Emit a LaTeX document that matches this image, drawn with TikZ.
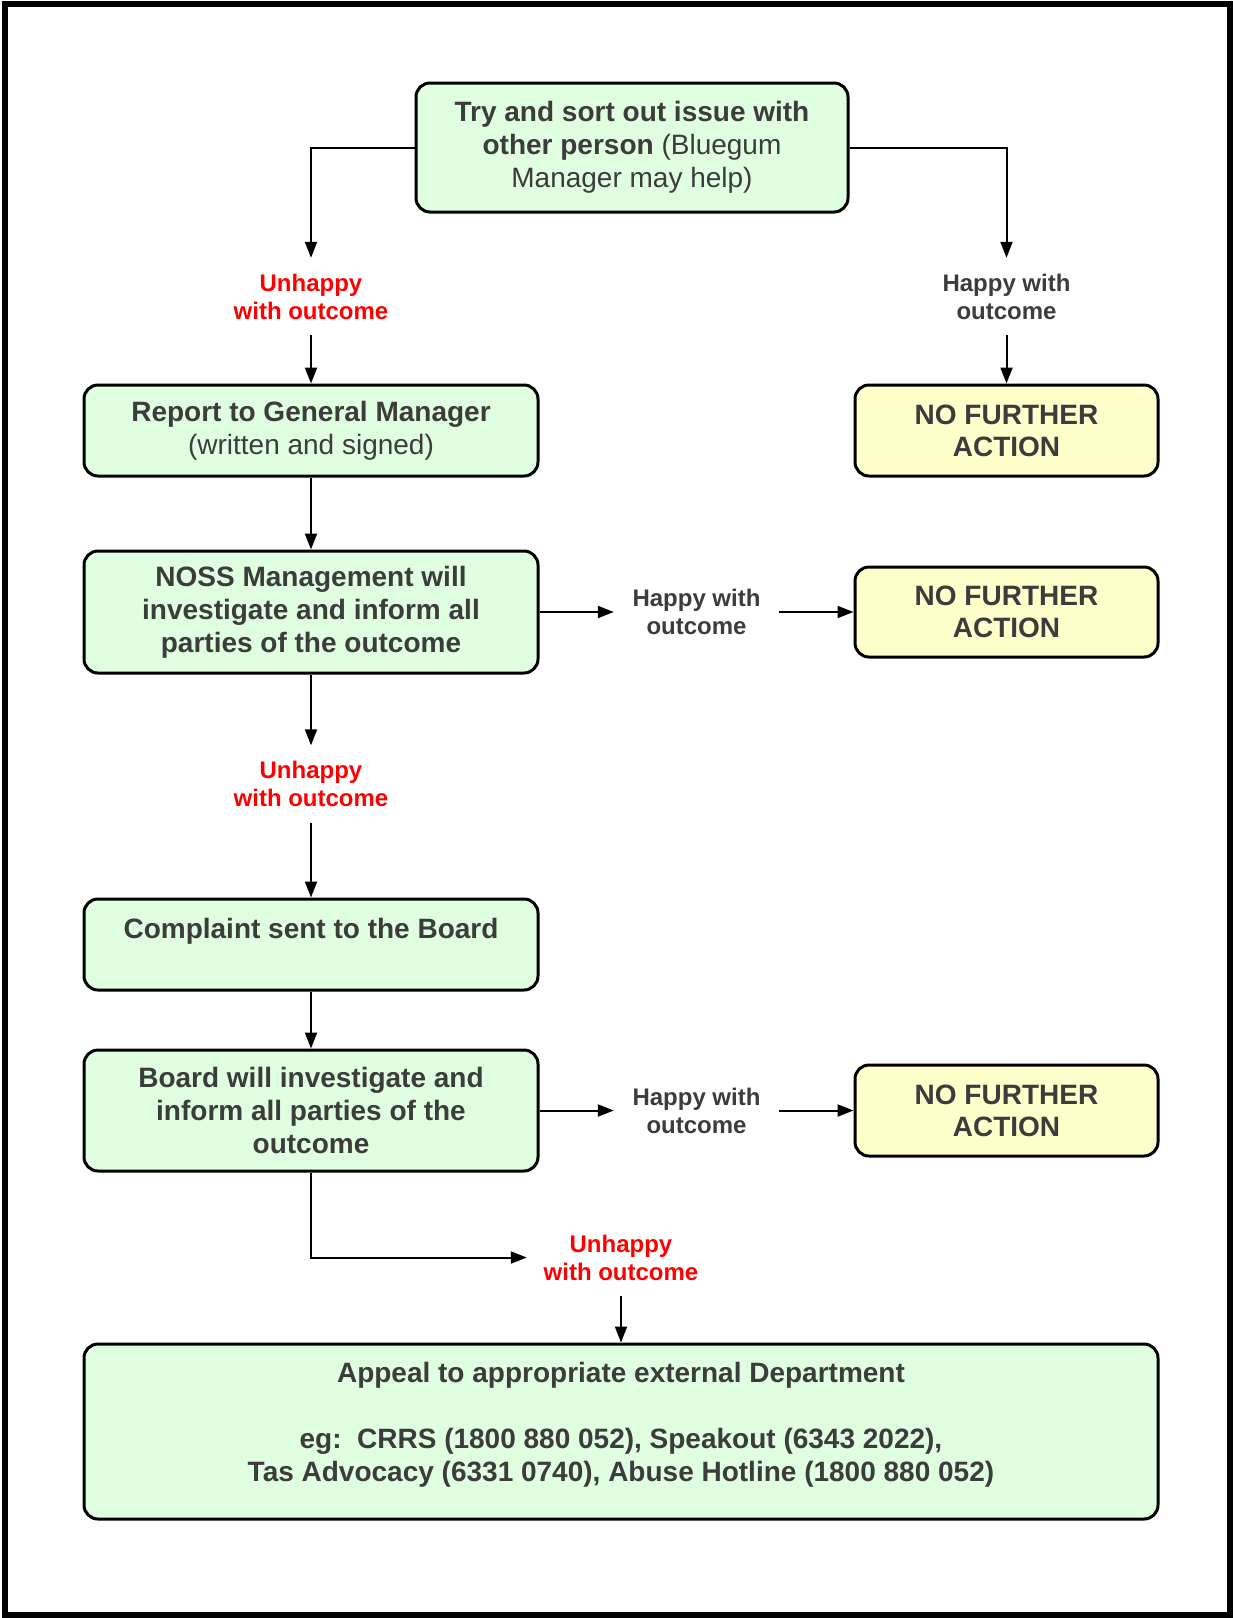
\documentclass[tikz,border=0pt]{standalone}
\usepackage{fontspec}
\setmainfont{Liberation Sans}
\usetikzlibrary{arrows.meta}
\definecolor{txtgray}{RGB}{60,60,60}
\definecolor{boxgreen}{RGB}{224,255,224}
\definecolor{boxyellow}{RGB}{255,255,204}
\definecolor{lblred}{RGB}{255,0,0}
\tikzset{
  box/.style={draw=black, line width=3pt, rounded corners=14pt, align=center,
    inner sep=0pt, text=txtgray, font=\fontsize{28}{33}\selectfont},
  gbox/.style={box, fill=boxgreen},
  ybox/.style={box, fill=boxyellow, font=\fontsize{28}{32}\selectfont\bfseries},
  lbl/.style={align=center, inner sep=0pt, minimum width=165pt, minimum height=77pt,
    font=\fontsize{24}{28}\selectfont\bfseries},
  happylbl/.style={lbl, text=txtgray},
  unhappylbl/.style={lbl, text=lblred},
  conn/.style={line width=2pt, -{Triangle[length=16pt,width=12pt]}}
}
\begin{document}
\begin{tikzpicture}[x=1pt,y=-1pt]
\useasboundingbox (0,0) rectangle (1233,1618);
\draw[line width=6pt] (5,3.5) rectangle (1229.5,1614.5);

\node[gbox, minimum width=432pt, minimum height=129pt] (top) at (632,147.5)
  {\textbf{Try and sort out issue with}\\\textbf{other person} (Bluegum\\Manager may help)};
\node[unhappylbl, minimum width=188pt] (u1) at (311,296.5) {Unhappy\\with outcome};
\node[happylbl] (h1) at (1006.5,296.5) {Happy with\\outcome};

\node[gbox, minimum width=454pt, minimum height=91pt] (report) at (311,430.5)
  {\textbf{Report to General Manager}\\(written and signed)};
\node[ybox, minimum width=303pt, minimum height=91pt] (nfa1) at (1006.5,430.5)
  {NO FURTHER\\ACTION};

\node[gbox, minimum width=454pt, minimum height=122pt] (noss) at (311,612)
  {\textbf{NOSS Management will}\\\textbf{investigate and inform all}\\\textbf{parties of the outcome}};
\node[happylbl] (h2) at (696.5,612) {Happy with\\outcome};
\node[ybox, minimum width=303pt, minimum height=90pt] (nfa2) at (1006.5,612)
  {NO FURTHER\\ACTION};

\node[unhappylbl, minimum width=188pt] (u2) at (311,784) {Unhappy\\with outcome};

\node[gbox, minimum width=454pt, minimum height=91pt] (complaint) at (311,944.5)
  {\textbf{Complaint sent to the Board}\\\mbox{}};

\node[gbox, minimum width=454pt, minimum height=121pt] (board) at (311,1110.5)
  {\textbf{Board will investigate and}\\\textbf{inform all parties of the}\\\textbf{outcome}};
\node[happylbl] (h3) at (696.5,1110.5) {Happy with\\outcome};
\node[ybox, minimum width=303pt, minimum height=91pt] (nfa3) at (1006.5,1110.5)
  {NO FURTHER\\ACTION};

\node[unhappylbl, minimum width=188pt] (u3) at (621,1257.5) {Unhappy\\with outcome};

\node[gbox, minimum width=1074pt, minimum height=175pt] (appeal) at (621,1431.5)
  {\textbf{Appeal to appropriate external Department}\\\mbox{}\\
   \textbf{eg:\ \ CRRS (1800 880 052), Speakout (6343 2022),}\\
   \textbf{Tas Advocacy (6331 0740), Abuse Hotline (1800 880 052)}\\[-14pt]\mbox{}};

\draw[conn] (top.west) -| (u1.north);
\draw[conn] (top.east) -| (h1.north);
\draw[conn] (u1.south) -- (report.north);
\draw[conn] (h1.south) -- (nfa1.north);
\draw[conn] (report.south) -- (noss.north);
\draw[conn] (noss.east) -- (h2.west);
\draw[conn] (h2.east) -- (nfa2.west);
\draw[conn] (noss.south) -- (u2.north);
\draw[conn] (u2.south) -- (complaint.north);
\draw[conn] (complaint.south) -- (board.north);
\draw[conn] (board.east) -- (h3.west);
\draw[conn] (h3.east) -- (nfa3.west);
\draw[conn] (board.south) |- (u3.west);
\draw[conn] (u3.south) -- (appeal.north);
\end{tikzpicture}
\end{document}
